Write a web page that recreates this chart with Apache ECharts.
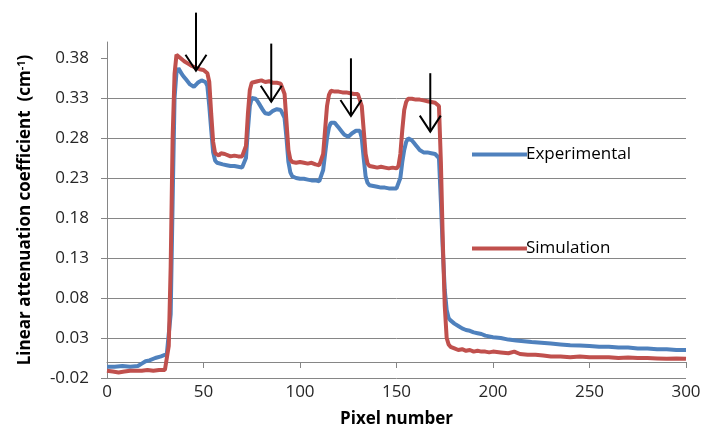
<!DOCTYPE html>
<html>
<head>
<meta charset="utf-8">
<script src="https://cdn.jsdelivr.net/npm/echarts@6/dist/echarts.min.js"></script>
<style>
html,body{margin:0;padding:0;background:#fff;}
#chart{width:704px;height:430px;}
</style>
</head>
<body>
<div id="chart"></div>
<script>
// ---- data ----
const seriesNames = ['Experimental', 'Simulation'];
const expX = [0,4,8,12,16,18,20,22,25,28,31,32,33,34,35,36,37,38,39,40,41,42,43,44,45,46,47,48,49,50,51,52,53,54,55,56,57,58,60,62,64,66,68,70,71,72,73,74,75,76,77,78,79,80,81,82,83,84,85,86,87,88,90,91,92,93,94,95,96,98,100,102,104,106,108,110,111,112,113,114,115,116,117,118,119,120,121,122,123,124,125,126,127,128,129,130,131,132,133,134,135,136,138,140,142,144,146,148,150,151,152,153,154,155,156,157,158,159,160,161,162,163,164,166,168,170,171,172,173,174,175,176,177,178,180,182,184,186,188,190,192,194,196,198,200,204,208,212,216,220,225,230,235,240,245,250,255,260,265,270,275,280,285,290,295,300];
const expY = [-0.006,-0.006,-0.005,-0.006,-0.005,-0.002,0.001,0.002,0.005,0.007,0.010,0.012,0.06,0.20,0.33,0.362,0.367,0.363,0.359,0.356,0.353,0.350,0.347,0.345,0.344,0.346,0.349,0.351,0.352,0.352,0.350,0.345,0.32,0.29,0.262,0.252,0.249,0.248,0.247,0.246,0.245,0.245,0.244,0.243,0.245,0.255,0.29,0.32,0.330,0.332,0.329,0.326,0.322,0.318,0.314,0.311,0.309,0.310,0.312,0.314,0.315,0.316,0.315,0.314,0.305,0.28,0.25,0.237,0.232,0.230,0.229,0.229,0.228,0.227,0.227,0.226,0.228,0.24,0.26,0.28,0.293,0.299,0.301,0.299,0.296,0.293,0.290,0.287,0.284,0.282,0.2815,0.283,0.286,0.288,0.289,0.290,0.289,0.28,0.255,0.232,0.224,0.221,0.220,0.219,0.218,0.218,0.217,0.217,0.217,0.219,0.23,0.25,0.265,0.275,0.2795,0.280,0.277,0.274,0.271,0.268,0.265,0.263,0.262,0.262,0.261,0.260,0.260,0.255,0.20,0.14,0.09,0.065,0.055,0.052,0.048,0.045,0.042,0.040,0.039,0.037,0.036,0.035,0.033,0.032,0.031,0.030,0.028,0.027,0.026,0.025,0.024,0.023,0.022,0.021,0.0205,0.020,0.019,0.019,0.018,0.018,0.017,0.017,0.016,0.016,0.015,0.015];
const simX = [0,3,6,9,12,15,18,21,24,27,30,31,32,33,34,35,36,37,38,39,40,41,42,43,44,45,46,47,48,49,50,51,52,53,54,55,56,57,58,59,60,61,62,64,66,68,70,71,72,73,74,75,76,78,80,82,84,86,88,90,91,92,93,94,95,96,98,100,102,104,106,108,110,111,112,113,114,115,116,117,118,120,122,124,126,128,130,131,132,133,134,135,136,138,140,142,144,146,148,150,151,152,153,154,155,156,157,158,160,162,164,166,168,170,171,172,173,174,175,176,177,178,180,182,184,186,188,190,192,194,196,198,200,204,208,211,214,218,222,226,230,235,240,245,250,255,260,265,270,275,280,285,290,295,300];
const simY = [-0.011,-0.012,-0.013,-0.012,-0.011,-0.011,-0.011,-0.010,-0.011,-0.010,-0.010,-0.009,0.02,0.12,0.28,0.36,0.384,0.382,0.380,0.378,0.376,0.374,0.373,0.371,0.370,0.369,0.368,0.367,0.366,0.366,0.365,0.364,0.361,0.35,0.31,0.275,0.261,0.259,0.258,0.261,0.262,0.260,0.258,0.257,0.258,0.257,0.257,0.259,0.27,0.31,0.34,0.349,0.350,0.351,0.352,0.350,0.351,0.349,0.349,0.348,0.347,0.335,0.30,0.265,0.253,0.250,0.249,0.250,0.249,0.248,0.249,0.247,0.246,0.248,0.26,0.29,0.32,0.334,0.339,0.340,0.338,0.338,0.337,0.337,0.336,0.335,0.335,0.334,0.32,0.29,0.26,0.248,0.245,0.244,0.243,0.244,0.243,0.242,0.243,0.242,0.245,0.26,0.29,0.315,0.325,0.329,0.330,0.329,0.328,0.328,0.327,0.326,0.325,0.324,0.323,0.32,0.25,0.15,0.07,0.03,0.022,0.019,0.017,0.015,0.016,0.014,0.015,0.013,0.014,0.013,0.013,0.012,0.013,0.012,0.011,0.013,0.010,0.009,0.009,0.008,0.007,0.007,0.006,0.007,0.006,0.006,0.006,0.005,0.0055,0.005,0.005,0.0045,0.004,0.0045,0.004];
const yTicks = [-0.02,0.03,0.08,0.13,0.18,0.23,0.28,0.33,0.38];
const xTicks = [0,50,100,150,200,250,300];
// arrows (data coordinates): x position, top value, tip value
const arrowX = [46.1, 85.1, 126.4, 167.5];
const arrowTop = [0.4367, 0.398, 0.3796, 0.361];
const arrowTip = [0.364, 0.3254, 0.3075, 0.288];

const colors = ['#4F81BD', '#C0504D'];
const FONT = 'Open Sans';

function pairs(xs, ys){ return xs.map((x,i)=>[x, ys[i]]); }

const chart = echarts.init(document.getElementById('chart'));
const option = {
  animation: false,
  backgroundColor: '#fff',
  grid: {left: 107, right: 18, top: 42, bottom: 52, containLabel: false, outerBoundsMode: 'none'},
  xAxis: {
    type: 'value', min: 0, max: 300, interval: 50,
    axisLine: {show: true, onZero: true, lineStyle: {color: '#868686', width: 1}},
    axisTick: {show: true, inside: false, length: 6, lineStyle: {color: '#868686'}},
    axisLabel: {margin: 6, fontFamily: FONT, fontSize: 17, color: '#262626'},
    splitLine: {show: false},
    name: 'Pixel number', nameLocation: 'middle', nameGap: 33,
    nameTextStyle: {fontFamily: FONT, fontSize: 17, fontWeight: 'bold', color: '#000'}
  },
  yAxis: {
    type: 'value', min: -0.02, max: 0.40,
    axisLine: {show: true, onZero: false, lineStyle: {color: '#868686', width: 1}},
    axisTick: {show: true, length: 6, customValues: yTicks, lineStyle: {color: '#868686'}},
    axisLabel: {customValues: yTicks, margin: 18, fontFamily: FONT, fontSize: 17, color: '#262626',
      formatter: v => v.toFixed(2)},
    splitLine: {show: true, showMaxLine: false, lineStyle: {color: '#868686', width: 1}},
    name: '{n|Linear attenuation coefficient  (cm}{s|-1}{n|)}', nameLocation: 'middle', nameGap: 72,
    nameTextStyle: {rich: {
      n: {fontFamily: FONT, fontSize: 17, fontWeight: 'bold', color: '#000'},
      s: {fontFamily: FONT, fontSize: 11, fontWeight: 'bold', color: '#000', verticalAlign: 'top', padding: [0,0,8,0]}
    }}
  },
  legend: [
    {data: [seriesNames[0]], left: 467, top: 141, icon: 'rect', itemWidth: 55, itemHeight: 4, itemGap: 4,
     textStyle: {fontFamily: FONT, fontSize: 17, color: '#000', padding: [0,0,0,-6]}},
    {data: [seriesNames[1]], left: 467, top: 235, icon: 'rect', itemWidth: 55, itemHeight: 4, itemGap: 4,
     textStyle: {fontFamily: FONT, fontSize: 17, color: '#000', padding: [0,0,0,-6]}}
  ],
  series: [
    {name: seriesNames[0], type: 'line', data: pairs(expX, expY), showSymbol: false, symbol: 'none',
     lineStyle: {color: colors[0], width: 4}, itemStyle: {color: colors[0]}, z: 2},
    {name: seriesNames[1], type: 'line', data: pairs(simX, simY), showSymbol: false, symbol: 'none',
     lineStyle: {color: colors[1], width: 4}, itemStyle: {color: colors[1]}, z: 3}
  ]
};
chart.setOption(option);

// arrows drawn from data coordinates via the chart's scales
const g = [];
for (let i = 0; i < arrowX.length; i++) {
  const top = chart.convertToPixel({gridIndex: 0}, [arrowX[i], arrowTop[i]]);
  const tip = chart.convertToPixel({gridIndex: 0}, [arrowX[i], arrowTip[i]]);
  const st = {stroke: '#000', lineWidth: 2};
  g.push({type: 'line', shape: {x1: top[0], y1: top[1], x2: tip[0], y2: tip[1]}, style: st, z: 100});
  g.push({type: 'polyline', shape: {points: [[tip[0]-10.5, tip[1]-16], [tip[0], tip[1]], [tip[0]+10.5, tip[1]-16]]}, style: Object.assign({fill: null}, st), z: 100});
}
chart.setOption({graphic: g});
</script>
</body>
</html>
